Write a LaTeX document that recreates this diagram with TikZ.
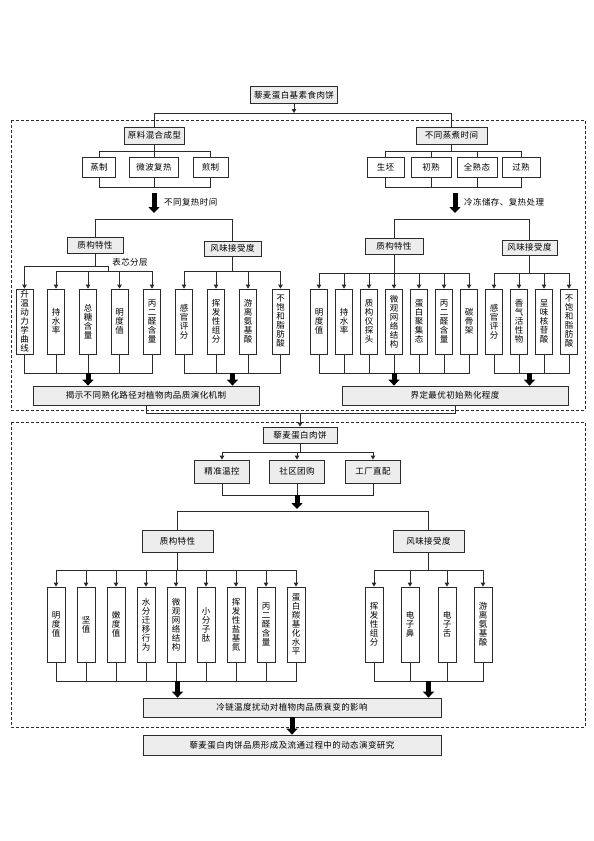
\documentclass[tikz,border=0pt]{standalone}
\usepackage{fontspec}
\newfontfamily\cjk[LetterSpace=5]{Noto Sans CJK SC}
\usetikzlibrary{arrows.meta}
\definecolor{BoxGray}{HTML}{EDEDED}
\definecolor{LineDark}{HTML}{2B2B2B}

\tikzset{
  box/.style={draw=LineDark, line width=0.8pt, fill=white, inner sep=0pt,
    font=\cjk\fontsize{8.5}{9}\selectfont},
  gbox/.style={box, fill=BoxGray},
  vbox/.style={box, minimum width=17pt, align=center},
  lbl/.style={inner sep=0pt, font=\cjk\fontsize{8.5}{9}\selectfont},
  link/.style={draw=LineDark, line width=0.8pt},
  arr/.style={link, -{Triangle[length=4pt,width=4.5pt]}},
  bigarr/.style={draw=black, line width=5pt, -{Triangle[length=6pt,width=11pt]}},
  frame/.style={draw=LineDark, line width=0.8pt, dash pattern=on 3pt off 2pt}
}

\begin{document}
\begin{tikzpicture}[x=1pt,y=-1pt]
  \fill[white] (0,0) rectangle (594,841);
  \useasboundingbox (0,0) rectangle (594,841);

  % frames
  \draw[frame] (11,120) rectangle (585,410);
  \draw[frame] (11,422) rectangle (585,727);

  % bus levels
  \coordinate (bus0) at (0,113);
  \coordinate (bus1) at (0,151);
  \coordinate (bus2) at (0,187);
  \coordinate (bus3) at (0,219);
  \coordinate (bus4) at (0,266);
  \coordinate (bus5) at (0,271);
  \coordinate (bus5r) at (0,273);
  \coordinate (bus6) at (0,373);
  \coordinate (bus7) at (0,413);
  \coordinate (jog) at (108,266);

  % top
  \node[gbox, minimum width=87pt, minimum height=17pt] (root) at (294,95) {藜麦蛋白基素食肉饼};
  \node[gbox, minimum width=60pt, minimum height=17pt] (mix) at (154.5,135.5) {原料混合成型};
  \node[gbox, minimum width=71pt, minimum height=17pt] (steam) at (451.5,135.5) {不同蒸煮时间};
  \draw[arr] (root.south) -- (root.south |- bus0);
  \draw[link] (mix.north) -- (mix.north |- bus0) -- (steam.north |- bus0) -- (steam.north);

  % heating ways
  \foreach \n/\x/\w/\t in {zheng/99/33/蒸制, wei/154/49/微波复热, jian/210.5/35/煎制}
    \node[box, minimum width=\w pt, minimum height=20pt] (\n) at (\x,167) {\t};
  \draw[link] (mix.south) -- (mix.south |- bus1);
  \draw[link] (zheng.north) -- (zheng.north |- bus1) -- (jian.north |- bus1) -- (jian.north);
  \draw[link] (wei.north) -- (wei.north |- bus1);
  \draw[link] (zheng.south) -- (zheng.south |- bus2) -- (jian.south |- bus2) -- (jian.south);
  \draw[link] (wei.south) -- (wei.south |- bus2);

  % cooking stages
  \foreach \n/\x/\w/\t in {raw/385.5/37/生坯, half/431/40/初熟, full/477/40/全熟态, over/521/38/过熟}
    \node[box, minimum width=\w pt, minimum height=20pt] (\n) at (\x,167) {\t};
  \draw[link] (steam.south) -- (steam.south |- bus1);
  \draw[link] (raw.north) -- (raw.north |- bus1) -- (over.north |- bus1) -- (over.north);
  \foreach \n in {half,full} \draw[link] (\n.north) -- (\n.north |- bus1);
  \draw[link] (raw.south) -- (raw.south |- bus2) -- (over.south |- bus2) -- (over.south);
  \foreach \n in {half,full} \draw[link] (\n.south) -- (\n.south |- bus2);

  % big arrows with notes
  \coordinate (armL) at (154,187);
  \coordinate (armR) at (455,187);
  \draw[bigarr, shorten <=6pt, shorten >=6pt] (armL) -- (armL |- bus3);
  \draw[bigarr, shorten <=6pt, shorten >=6pt] (armR) -- (armR |- bus3);
  \node[lbl, anchor=west] (noteL) at (164,202) {不同复热时间};
  \node[lbl, anchor=west] (noteR) at (464,202) {冷冻储存、复热处理};

  % left: texture / flavour
  \node[gbox, minimum width=56pt, minimum height=16pt] (texL) at (95,245) {质构特性};
  \node[gbox, minimum width=57pt, minimum height=15pt] (flaL) at (232.5,248.5) {风味接受度};
  \draw[link] (texL.north) -- (texL.north |- bus3) -- (flaL.north |- bus3) -- (flaL.north);

  \foreach \i/\x/\t in {1/24.5/{升\\温\\动\\力\\学\\曲\\线}, 2/56/{持\\水\\率}, 3/88/{总\\糖\\含\\量},
      4/119.5/{明\\度\\值}, 5/152/{丙\\二\\醛\\含\\量}}
    \node[vbox, minimum height=65pt] (ta\i) at (\x,321.5) {\t};
  \draw[link] (texL.south) -- (texL.south |- bus4);
  \draw[link] (ta1.north |- bus4) -- (jog) -- (jog |- bus5);
  \draw[link] (ta2.north |- bus5) -- (ta5.north |- bus5);
  \draw[arr] (ta1.north |- bus4) -- (ta1.north);
  \foreach \i in {2,...,5} \draw[arr] (ta\i.north |- bus5) -- (ta\i.north);
  \node[lbl] (core) at (130,262) {表芯分层};

  \foreach \i/\x/\t in {1/184/{感\\官\\评\\分}, 2/216/{挥\\发\\性\\组\\分}, 3/248/{游\\离\\氨\\基\\酸},
      4/280.5/{不\\饱\\和\\脂\\肪\\酸}}
    \node[vbox, minimum height=65pt] (fa\i) at (\x,321.5) {\t};
  \draw[link] (flaL.south) -- (flaL.south |- bus5);
  \draw[link] (fa1.north |- bus5) -- (fa4.north |- bus5);
  \foreach \i in {1,...,4} \draw[arr] (fa\i.north |- bus5) -- (fa\i.north);

  \node[gbox, minimum width=226pt, minimum height=19pt] (reveal) at (146,395.5) {揭示不同熟化路径对植物肉品质演化机制};
  \draw[link] (ta1.south) -- (ta1.south |- bus6) -- (ta5.south |- bus6) -- (ta5.south);
  \foreach \i in {2,3,4} \draw[link] (ta\i.south) -- (ta\i.south |- bus6);
  \draw[link] (fa1.south) -- (fa1.south |- bus6) -- (fa4.south |- bus6) -- (fa4.south);
  \foreach \i in {2,3} \draw[link] (fa\i.south) -- (fa\i.south |- bus6);
  \draw[bigarr] (ta3.south |- bus6) -- (ta3.south |- reveal.north);
  \draw[bigarr] (flaL.south |- bus6) -- (flaL.south |- reveal.north);

  % right: texture / flavour
  \node[gbox, minimum width=58pt, minimum height=16pt] (texR) at (394,246) {质构特性};
  \node[gbox, minimum width=55pt, minimum height=15pt] (flaR) at (529.5,247.5) {风味接受度};
  \draw[link] (texR.north) -- (texR.north |- bus3) -- (flaR.north |- bus3) -- (flaR.north);

  \foreach \i/\x/\t in {1/319/{明\\度\\值}, 2/344/{持\\水\\率}, 3/369/{质\\构\\仪\\探\\头},
      4/394/{微\\观\\网\\络\\结\\构}, 5/419/{蛋\\白\\聚\\集\\态}, 6/444/{丙\\二\\醛\\含\\量}, 7/469/{碳\\骨\\架}}
    \node[vbox, minimum height=65pt] (tb\i) at (\x,321.5) {\t};
  \draw[link] (texR.south) -- (texR.south |- bus5r);
  \draw[link] (tb1.north |- bus5r) -- (tb7.north |- bus5r);
  \foreach \i in {1,...,7} \draw[arr] (tb\i.north |- bus5r) -- (tb\i.north);

  \foreach \i/\x/\t in {1/494/{感\\官\\评\\分}, 2/519/{香\\气\\活\\性\\物}, 3/544/{呈\\味\\核\\苷\\酸},
      4/569/{不\\饱\\和\\脂\\肪\\酸}}
    \node[vbox, minimum height=65pt] (fb\i) at (\x,321.5) {\t};
  \draw[link] (flaR.south) -- (flaR.south |- bus5r);
  \draw[link] (fb1.north |- bus5r) -- (fb4.north |- bus5r);
  \foreach \i in {1,...,4} \draw[arr] (fb\i.north |- bus5r) -- (fb\i.north);

  \node[gbox, minimum width=226pt, minimum height=19pt] (define) at (455,395.5) {界定最优初始熟化程度};
  \draw[link] (tb1.south) -- (tb1.south |- bus6) -- (tb7.south |- bus6) -- (tb7.south);
  \foreach \i in {2,...,6} \draw[link] (tb\i.south) -- (tb\i.south |- bus6);
  \draw[link] (fb1.south) -- (fb1.south |- bus6) -- (fb4.south |- bus6) -- (fb4.south);
  \foreach \i in {2,3} \draw[link] (fb\i.south) -- (fb\i.south |- bus6);
  \draw[bigarr] (texR.south |- bus6) -- (texR.south |- define.north);
  \draw[bigarr] (flaR.south |- bus6) -- (flaR.south |- define.north);

  % second stage
  \node[gbox, minimum width=74pt, minimum height=16pt] (patty) at (300,435) {藜麦蛋白肉饼};
  \draw[link] (reveal.south) -- (reveal.south |- bus7) -- (define.south |- bus7) -- (define.south);
  \draw[arr] (patty.north |- bus7) -- (patty.north);

  \coordinate (bus8) at (0,452);
  \coordinate (bus9) at (0,495);
  \coordinate (bus10) at (0,511);
  \coordinate (bus11) at (0,570);
  \coordinate (bus12) at (0,681);
  \foreach \n/\x/\t in {temp/222/精准温控, comm/297/社区团购, fact/373/工厂直配}
    \node[gbox, minimum width=55pt, minimum height=23pt] (\n) at (\x,471.5) {\t};
  \draw[link] (patty.south) -- (patty.south |- bus8);
  \draw[link] (temp.north |- bus8) -- (fact.north |- bus8);
  \foreach \n in {temp,comm,fact} \draw[arr] (\n.north |- bus8) -- (\n.north);
  \draw[link] (temp.south) -- (temp.south |- bus9) -- (fact.south |- bus9) -- (fact.south);
  \draw[link] (comm.south) -- (comm.south |- bus9);
  \draw[bigarr, shorten >=2pt] (comm.south |- bus9) -- (comm.south |- bus10);

  \node[gbox, minimum width=71pt, minimum height=22pt] (texC) at (177.5,541) {质构特性};
  \node[gbox, minimum width=71pt, minimum height=22pt] (flaC) at (428.5,541) {风味接受度};
  \draw[link] (texC.north) -- (texC.north |- bus10) -- (flaC.north |- bus10) -- (flaC.north);

  \foreach \i/\x/\t in {1/56/{明\\度\\值}, 2/86/{坚\\值}, 3/116/{嫩\\度\\值}, 4/146/{水\\分\\迁\\移\\行\\为},
      5/176/{微\\观\\网\\络\\结\\构}, 6/206/{小\\分\\子\\肽}, 7/236/{挥\\发\\性\\盐\\基\\氮},
      8/266/{丙\\二\\醛\\含\\量}, 9/296/{蛋\\白\\羰\\基\\化\\水\\平}}
    \node[vbox, minimum width=18pt, minimum height=75pt] (tc\i) at (\x,624.5) {\t};
  \draw[link] (texC.south) -- (texC.south |- bus11);
  \draw[link] (tc1.north |- bus11) -- (tc9.north |- bus11);
  \foreach \i in {1,...,9} \draw[arr] (tc\i.north |- bus11) -- (tc\i.north);

  \foreach \i/\x/\t in {1/374/{挥\\发\\性\\组\\分}, 2/410/{电\\子\\鼻}, 3/447/{电\\子\\舌}, 4/483/{游\\离\\氨\\基\\酸}}
    \node[vbox, minimum width=18pt, minimum height=75pt] (fc\i) at (\x,624.5) {\t};
  \draw[link] (flaC.south) -- (flaC.south |- bus11);
  \draw[link] (fc1.north |- bus11) -- (fc4.north |- bus11);
  \foreach \i in {1,...,4} \draw[arr] (fc\i.north |- bus11) -- (fc\i.north);

  \node[gbox, minimum width=298pt, minimum height=19pt] (chain) at (292,707.5) {冷链温度扰动对植物肉品质衰变的影响};
  \draw[link] (tc1.south) -- (tc1.south |- bus12) -- (tc9.south |- bus12) -- (tc9.south);
  \foreach \i in {2,...,8} \draw[link] (tc\i.south) -- (tc\i.south |- bus12);
  \draw[link] (fc1.south) -- (fc1.south |- bus12) -- (fc4.south |- bus12) -- (fc4.south);
  \foreach \i in {2,3} \draw[link] (fc\i.south) -- (fc\i.south |- bus12);
  \draw[bigarr] (texC.south |- bus12) -- (texC.south |- chain.north);
  \draw[bigarr] (flaC.south |- bus12) -- (flaC.south |- chain.north);

  \node[gbox, minimum width=298pt, minimum height=20pt] (study) at (292,745) {藜麦蛋白肉饼品质形成及流通过程中的动态演变研究};
  \draw[bigarr] (chain.south) -- (study.north);
\end{tikzpicture}
\end{document}
